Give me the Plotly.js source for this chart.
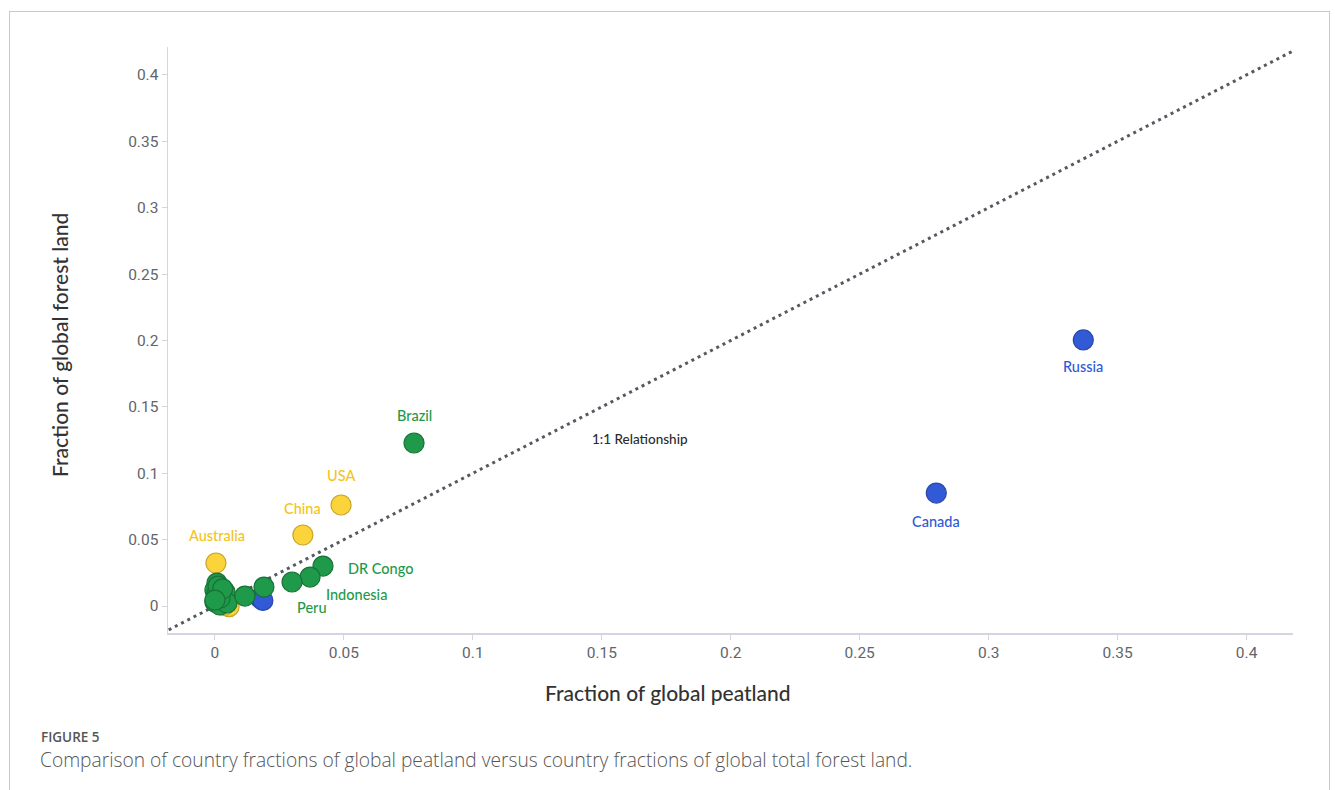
<!DOCTYPE html>
<html>
<head>
<meta charset="utf-8">
<script src="https://cdn.plot.ly/plotly-3.0.1.min.js"></script>
<style>
  html, body { margin: 0; padding: 0; background: #fff; }
  #wrap { position: relative; width: 1335px; height: 790px; overflow: hidden; }
  #chart { position: absolute; left: 0; top: 0; width: 1335px; height: 790px; }
  #frame { position: absolute; left: 9px; top: 11px; width: 1321px; height: 820px;
           border: 1px solid #c9c9c9; box-sizing: border-box; pointer-events: none; }
  #figlabel { position: absolute; left: 41px; top: 729px; line-height: 16px; font-family: "Open Sans", sans-serif;
              font-weight: 600; font-size: 13.5px; color: #555; }
  #caption { position: absolute; left: 40px; top: 749px; line-height: 22px; font-family: "Open Sans", sans-serif;
             font-weight: 300; font-size: 19.2px; color: #555; white-space: nowrap; }
</style>
</head>
<body>
<div id="wrap">
  <div id="chart"></div>
  <div id="frame"></div>
  <div id="figlabel">FIGURE 5</div>
  <div id="caption">Comparison of country fractions of global peatland versus country fractions of global total forest land.</div>
</div>
<script>
// Named countries (fraction of global peatland, fraction of global forest land)
const blueNames = ["Russia", "Canada"];
const blueX = [0.3367, 0.2797];
const blueY = [0.2004, 0.0851];

const yellowNames = ["USA", "China", "Australia"];
const yellowX = [0.0489, 0.0341, 0.0004];
const yellowY = [0.0761, 0.0535, 0.0324];

const greenNames = ["Brazil", "DR Congo", "Indonesia", "Peru"];
const greenX = [0.0772, 0.0419, 0.0369, 0.0299];
const greenY = [0.1228, 0.0301, 0.0218, 0.0181];

// Unlabelled small countries near the origin
const smallBlueX = [0.0175, 0.0186];
const smallBlueY = [0.0060, 0.0042];
const smallYellowX = [0.0055, 0.0035, 0.0020];
const smallYellowY = [-0.0005, 0.0004, 0.0010];
const smallGreenX = [0.0008, 0.0000, 0.0039, 0.0000, 0.0019, 0.0047, 0.0116, 0.0190, 0.0008, 0.0020, 0.0012, 0.0030, 0.0000];
const smallGreenY = [0.0173, 0.0120, 0.0105, 0.0030, 0.0008, 0.0023, 0.0075, 0.0143, 0.0090, 0.0060, 0.0150, 0.0130, 0.0045];

// 1:1 reference line
const lineX = [-0.03, 0.43];
const lineY = [-0.03, 0.43];

const tickVals = [0, 0.05, 0.1, 0.15, 0.2, 0.25, 0.3, 0.35, 0.4];
const tickText = ["0", "0.05", "0.1", "0.15", "0.2", "0.25", "0.3", "0.35", "0.4"];

const C = {
  blue: "#3259d6", blueLine: "#2a47a8", blueText: "#2e5ad8",
  yellow: "#fbd33a", yellowLine: "#c9a52a", yellowText: "#f3c419",
  green: "#1f9a4a", greenLine: "#177236", greenText: "#1f9a4a"
};

function pts(x, y, fill, edge) {
  return {
    type: "scatter", mode: "markers", x: x, y: y, hoverinfo: "skip",
    marker: { size: 20, color: fill, line: { color: edge, width: 1.2 } },
    showlegend: false, cliponaxis: false
  };
}

const traces = [
  { type: "scatter", mode: "lines", x: lineX, y: lineY, hoverinfo: "skip", showlegend: false,
    line: { color: "#555a60", width: 3, dash: "3px,4px" } },
  pts(smallYellowX, smallYellowY, C.yellow, C.yellowLine),
  pts(yellowX, yellowY, C.yellow, C.yellowLine),
  pts(smallBlueX, smallBlueY, C.blue, C.blueLine),
  pts(blueX, blueY, C.blue, C.blueLine),
  pts(smallGreenX, smallGreenY, C.green, C.greenLine),
  pts(greenX, greenY, C.green, C.greenLine)
];

const FONT = "Lato, 'Noto Sans', sans-serif";
const labelFont = (c) => ({ family: FONT, size: 14.5, color: c, weight: 500 });

// label offsets in pixels [dx, dy] relative to the point
const offsets = {
  "Russia": [0, -27], "Canada": [0, -28],
  "USA": [0, 29], "China": [0, 27], "Australia": [1, 28],
  "Brazil": [0, 27], "DR Congo": [57, -2], "Indonesia": [46, -17], "Peru": [20, -25]
};

const annotations = [];
function addLabels(names, xs, ys, color) {
  names.forEach((n, i) => {
    annotations.push({
      x: xs[i], y: ys[i], xref: "x", yref: "y", text: n, showarrow: false,
      xshift: offsets[n][0], yshift: offsets[n][1], font: labelFont(color)
    });
  });
}
addLabels(blueNames, blueX, blueY, C.blueText);
addLabels(yellowNames, yellowX, yellowY, C.yellowText);
addLabels(greenNames, greenX, greenY, C.greenText);
annotations.push({
  x: 0.165, y: 0.126, xref: "x", yref: "y", text: "1:1 Relationship", showarrow: false,
  font: { family: FONT, size: 13.5, color: "#2b2b2b", weight: 500 }
});

// axis titles (placed as in the reference, not centred on the plot)
const titleFont = { family: FONT, size: 21, color: "#333333", weight: 500 };
annotations.push({
  xref: "paper", yref: "paper", x: (668 - 168) / 1125, y: (633 - 692) / 586,
  xanchor: "center", yanchor: "middle", showarrow: false,
  text: "Fraction of global peatland", font: titleFont
});
annotations.push({
  xref: "paper", yref: "paper", x: (59 - 168) / 1125, y: (633 - 345) / 586,
  xanchor: "center", yanchor: "middle", showarrow: false, textangle: -90,
  text: "Fraction of global forest land", font: titleFont
});

const axisCommon = {
  showgrid: false, zeroline: false, showline: true, linecolor: "#d3d6e2", linewidth: 1.5,
  ticks: "outside", ticklen: 5, tickcolor: "#d3d6e2", tickwidth: 1,
  tickvals: tickVals, ticktext: tickText,
  tickfont: { family: "Roboto, 'Liberation Sans', sans-serif", size: 15.5, color: "#62656b" }
};

const layout = {
  width: 1335, height: 790,
  margin: { l: 168, r: 42, t: 47, b: 157 },
  paper_bgcolor: "#ffffff", plot_bgcolor: "#ffffff",
  showlegend: false,
  xaxis: Object.assign({}, axisCommon, { range: [-0.0182, 0.418] }),
  yaxis: Object.assign({}, axisCommon, { range: [-0.0203, 0.421] }),
  annotations: annotations
};

Plotly.newPlot("chart", traces, layout, { staticPlot: true, displayModeBar: false });
</script>
</body>
</html>
